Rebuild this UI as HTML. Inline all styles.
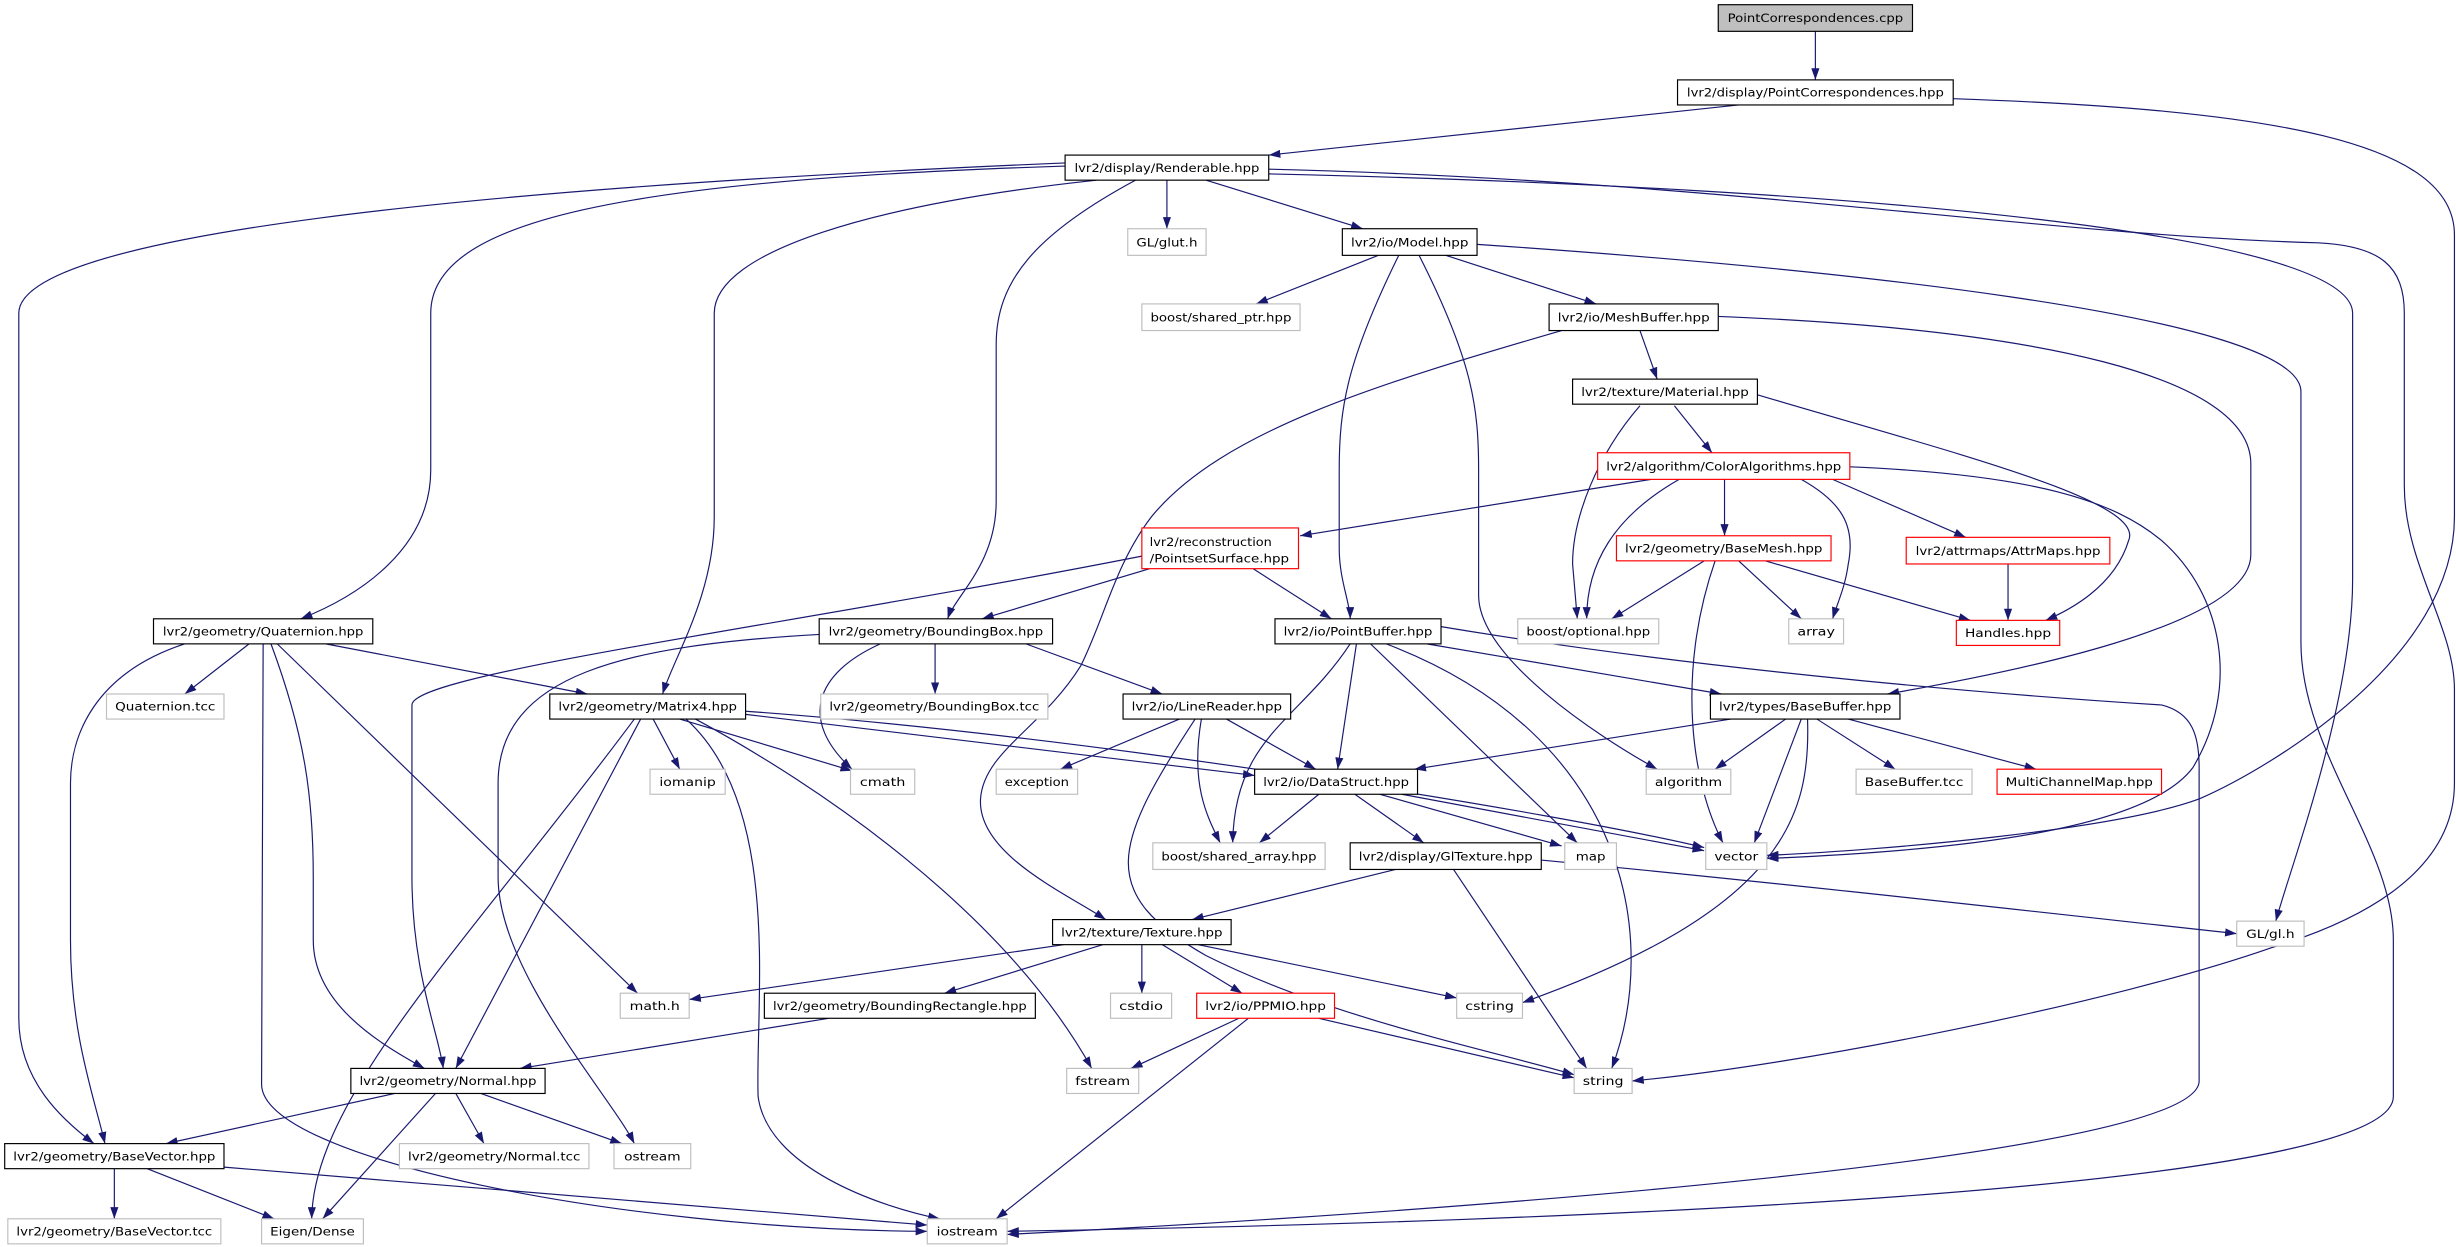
<!DOCTYPE html>
<html><head><meta charset="utf-8"><style>
html,body{margin:0;padding:0;background:#fff;}
svg{display:block;}
text{font-family:"DejaVu Sans","Liberation Sans",sans-serif;font-size:7.4px;fill:#000;}
.e{fill:none;stroke:#191970;stroke-width:0.75;marker-end:url(#a);}
.n{fill:#fff;stroke:#000;stroke-width:0.75;}
.g{fill:#fff;stroke:#bfbfbf;stroke-width:0.75;}
.r{fill:#fff;stroke:#ff0000;stroke-width:0.75;}
</style></head><body>
<svg width="2456" height="1247" viewBox="0 0 1568 796" preserveAspectRatio="none" xmlns="http://www.w3.org/2000/svg">
<defs><marker id="a" viewBox="0 0 10 7" refX="10" refY="3.5" markerUnits="userSpaceOnUse" markerWidth="7.5" markerHeight="5.2" orient="auto"><path d="M0,0 L10,3.5 L0,7 z" fill="#191970"/></marker></defs>
<rect width="1568" height="796" fill="#fff"/>
<!-- edges -->
<path class="e" d="M1159,20 L1159,51"/>
<path class="e" d="M1110,67 L810,99"/>
<path class="e" d="M1247,63 C1450,70 1567,90 1567,150 L1567,330 C1567,420 1450,490 1404,510 C1350,530 1200,543 1128,546"/>
<path class="e" d="M745,115 L745,146"/>
<path class="e" d="M770,115 L870,146"/>
<path class="e" d="M680,106 C400,115 275,140 275,200 L275,300 C275,350 230,380 192,395"/>
<path class="e" d="M680,104 C300,120 12,150 12,200 L12,650 C12,690 40,715 60,730"/>
<path class="e" d="M700,115 C560,130 456,160 456,200 L456,330 C456,380 430,420 423,443"/>
<path class="e" d="M725,115 C660,150 636,180 636,220 L636,320 C636,360 610,380 605,395"/>
<path class="e" d="M810,108 C1100,115 1300,150 1480,155 C1520,157 1535,170 1535,200 L1535,310 C1535,360 1567,400 1567,440 L1567,500 C1567,560 1500,590 1450,605 C1350,640 1150,680 1042,690"/>
<path class="e" d="M810,111 C1200,120 1502,150 1502,200 L1502,370 C1502,450 1460,560 1453,588"/>
<path class="e" d="M943,156 C1150,170 1469,200 1469,250 L1469,410 C1469,480 1528,540 1528,600 L1528,700 C1528,760 1000,780 643,786"/>
<path class="e" d="M1097,202 C1300,210 1437,240 1437,296 L1437,354 C1437,400 1280,430 1205,443"/>
<path class="e" d="M1122,252 C1250,290 1370,320 1359,345 C1350,375 1320,390 1306,396"/>
<path class="e" d="M1181,298 C1300,303 1350,320 1380,345 C1420,380 1430,440 1400,490 C1370,530 1250,543 1128,548"/>
<path class="e" d="M1150,306 C1175,320 1185,335 1180,360 C1178,375 1173,385 1170,395"/>
<path class="e" d="M1170,306 L1255,343"/>
<path class="e" d="M1127,358 L1258,396"/>
<path class="e" d="M1282,360 L1282,396"/>
<path class="e" d="M920,400 C1100,430 1300,445 1380,450 C1400,455 1404,470 1404,490 L1404,690 C1404,740 900,775 643,788"/>
<path class="e" d="M984,549 C1150,565 1300,582 1428,596"/>
<path class="e" d="M1180,459 L1300,491"/>
<path class="e" d="M1160,459 L1210,491"/>
<path class="e" d="M1140,459 L1095,491"/>
<path class="e" d="M1150,459 L1120,538"/>
<path class="e" d="M1154,459 C1156,520 1140,580 972,640"/>
<path class="e" d="M1105,459 L903,491"/>
<path class="e" d="M911,411 L1099,443"/>
<path class="e" d="M866,411 L854,491"/>
<path class="e" d="M862,411 C830,460 788,470 787,538"/>
<path class="e" d="M875,411 L1007,538"/>
<path class="e" d="M885,411 C1040,470 1060,600 1029,682"/>
<path class="e" d="M753,459 L677,491"/>
<path class="e" d="M783,459 L840,491"/>
<path class="e" d="M767,459 C760,500 770,520 779,538"/>
<path class="e" d="M763,459 C710,540 700,570 770,610 C850,650 950,670 1005,686"/>
<path class="e" d="M842,507 L804,538"/>
<path class="e" d="M865,507 L909,538"/>
<path class="e" d="M881,507 L997,540"/>
<path class="e" d="M895,507 L1088,543"/>
<path class="e" d="M891,555 L761,587"/>
<path class="e" d="M928,555 L1013,682"/>
<path class="e" d="M729,603 L729,634"/>
<path class="e" d="M742,603 L793,634"/>
<path class="e" d="M765,603 L930,637"/>
<path class="e" d="M704,603 L603,634"/>
<path class="e" d="M679,603 L440,638"/>
<path class="e" d="M791,650 L722,682"/>
<path class="e" d="M842,650 L1005,688"/>
<path class="e" d="M797,650 L636,778"/>
<path class="e" d="M118,411 C60,430 45,470 45,500 L45,600 C45,660 60,700 67,730"/>
<path class="e" d="M159,411 L118,443"/>
<path class="e" d="M208,411 L375,443"/>
<path class="e" d="M177,411 L407,634"/>
<path class="e" d="M173,411 C195,470 200,510 200,560 L200,600 C200,640 240,665 271,682"/>
<path class="e" d="M168,411 L167,692 C167,740 400,785 592,786"/>
<path class="e" d="M729,355 C500,400 263,430 263,450 L263,560 C263,620 280,660 283,682"/>
<path class="e" d="M523,405 C400,412 318,430 318,500 L318,560 C318,620 390,700 405,730"/>
<path class="e" d="M562,411 C520,430 510,460 544,491"/>
<path class="e" d="M597,411 L597,443"/>
<path class="e" d="M655,411 L742,443"/>
<path class="e" d="M417,459 L434,491"/>
<path class="e" d="M434,459 L544,492"/>
<path class="e" d="M409,459 L291,682"/>
<path class="e" d="M405,459 C300,600 200,700 199,778"/>
<path class="e" d="M438,459 C500,515 482,640 484,700 C490,745 560,770 600,778"/>
<path class="e" d="M444,459 C520,500 640,580 697,682"/>
<path class="e" d="M476,456 L801,495"/>
<path class="e" d="M476,454 C700,470 1000,520 1088,541"/>
<path class="e" d="M73,746 L73,778"/>
<path class="e" d="M94,746 L175,778"/>
<path class="e" d="M143,745 L592,782"/>
<path class="e" d="M252,698 L106,730"/>
<path class="e" d="M278,698 L206,778"/>
<path class="e" d="M291,698 L309,730"/>
<path class="e" d="M307,698 L397,730"/>
<path class="e" d="M529,650 L332,682"/>
<path class="e" d="M880,163 L802,194"/>
<path class="e" d="M923,163 L1019,194"/>
<path class="e" d="M893,163 C860,230 855,260 855,300 L855,350 C855,370 862,385 862,395"/>
<path class="e" d="M906,163 C940,230 944,260 944,300 L944,380 C944,420 1020,470 1058,491"/>
<path class="e" d="M1047,211 L1058,242"/>
<path class="e" d="M997,211 C880,245 780,275 735,330 C712,360 705,395 690,425 C665,465 628,480 626,510 C624,545 680,570 706,587"/>
<path class="e" d="M1047,259 C1020,290 1004,330 1004,360 L1007,395"/>
<path class="e" d="M1069,259 L1093,289"/>
<path class="e" d="M1054,306 L830,342"/>
<path class="e" d="M1072,306 C1030,330 1013,360 1013,395"/>
<path class="e" d="M1101,306 L1101,342"/>
<path class="e" d="M734,363 L627,395"/>
<path class="e" d="M800,363 L850,395"/>
<path class="e" d="M1088,358 L1029,395"/>
<path class="e" d="M1110,358 L1150,395"/>
<path class="e" d="M1095,358 C1070,430 1080,500 1100,538"/>
<!-- nodes -->
<rect x="1097" y="3" width="124" height="17" fill="#bfbfbf" stroke="#000" stroke-width="0.75"/><text x="1159" y="14.2" text-anchor="middle" textLength="112" lengthAdjust="spacingAndGlyphs">PointCorrespondences.cpp</text>
<rect class="n" x="1071" y="51" width="176" height="16"/><text x="1159" y="61.7" text-anchor="middle" textLength="164" lengthAdjust="spacingAndGlyphs">lvr2/display/PointCorrespondences.hpp</text>
<rect class="n" x="680" y="99" width="130" height="16"/><text x="745" y="109.7" text-anchor="middle" textLength="118" lengthAdjust="spacingAndGlyphs">lvr2/display/Renderable.hpp</text>
<rect class="g" x="720" y="146" width="50" height="17"/><text x="745" y="157.2" text-anchor="middle" textLength="39" lengthAdjust="spacingAndGlyphs">GL/glut.h</text>
<rect class="n" x="857" y="146" width="86" height="17"/><text x="900" y="157.2" text-anchor="middle" textLength="75" lengthAdjust="spacingAndGlyphs">lvr2/io/Model.hpp</text>
<rect class="g" x="729" y="194" width="101" height="17"/><text x="779.5" y="205.2" text-anchor="middle" textLength="90" lengthAdjust="spacingAndGlyphs">boost/shared_ptr.hpp</text>
<rect class="n" x="989" y="194" width="108" height="17"/><text x="1043" y="205.2" text-anchor="middle" textLength="97" lengthAdjust="spacingAndGlyphs">lvr2/io/MeshBuffer.hpp</text>
<rect class="n" x="1004" y="242" width="118" height="16"/><text x="1063" y="252.7" text-anchor="middle" textLength="107" lengthAdjust="spacingAndGlyphs">lvr2/texture/Material.hpp</text>
<rect class="r" x="1020" y="289" width="161" height="17"/><text x="1100.5" y="300.2" text-anchor="middle" textLength="150" lengthAdjust="spacingAndGlyphs">lvr2/algorithm/ColorAlgorithms.hpp</text>
<rect class="r" x="729" y="337" width="100" height="26"/><text x="734" y="348.5" textLength="78" lengthAdjust="spacingAndGlyphs">lvr2/reconstruction</text><text x="734" y="359" textLength="89" lengthAdjust="spacingAndGlyphs">/PointsetSurface.hpp</text>
<rect class="r" x="1032" y="342" width="137" height="16"/><text x="1100.5" y="352.7" text-anchor="middle" textLength="126" lengthAdjust="spacingAndGlyphs">lvr2/geometry/BaseMesh.hpp</text>
<rect class="r" x="1217" y="343" width="130" height="17"/><text x="1282" y="354.2" text-anchor="middle" textLength="118" lengthAdjust="spacingAndGlyphs">lvr2/attrmaps/AttrMaps.hpp</text>
<rect class="n" x="98" y="395" width="140" height="16"/><text x="168" y="405.7" text-anchor="middle" textLength="128" lengthAdjust="spacingAndGlyphs">lvr2/geometry/Quaternion.hpp</text>
<rect class="n" x="523" y="395" width="149" height="16"/><text x="597.5" y="405.7" text-anchor="middle" textLength="137" lengthAdjust="spacingAndGlyphs">lvr2/geometry/BoundingBox.hpp</text>
<rect class="n" x="814" y="395" width="106" height="16"/><text x="867" y="405.7" text-anchor="middle" textLength="95" lengthAdjust="spacingAndGlyphs">lvr2/io/PointBuffer.hpp</text>
<rect class="g" x="969" y="395" width="90" height="16"/><text x="1014" y="405.7" text-anchor="middle" textLength="79" lengthAdjust="spacingAndGlyphs">boost/optional.hpp</text>
<rect class="g" x="1142" y="395" width="35" height="16"/><text x="1159.5" y="405.7" text-anchor="middle" textLength="24" lengthAdjust="spacingAndGlyphs">array</text>
<rect class="r" x="1249" y="396" width="66" height="16"/><text x="1282" y="406.7" text-anchor="middle" textLength="55" lengthAdjust="spacingAndGlyphs">Handles.hpp</text>
<rect class="g" x="68" y="443" width="75" height="16"/><text x="105.5" y="453.7" text-anchor="middle" textLength="64" lengthAdjust="spacingAndGlyphs">Quaternion.tcc</text>
<rect class="n" x="351" y="443" width="125" height="16"/><text x="413.5" y="453.7" text-anchor="middle" textLength="114" lengthAdjust="spacingAndGlyphs">lvr2/geometry/Matrix4.hpp</text>
<rect class="g" x="524" y="443" width="145" height="16"/><text x="596.5" y="453.7" text-anchor="middle" textLength="134" lengthAdjust="spacingAndGlyphs">lvr2/geometry/BoundingBox.tcc</text>
<rect class="n" x="717" y="443" width="107" height="16"/><text x="770.5" y="453.7" text-anchor="middle" textLength="96" lengthAdjust="spacingAndGlyphs">lvr2/io/LineReader.hpp</text>
<rect class="n" x="1092" y="443" width="121" height="16"/><text x="1152.5" y="453.7" text-anchor="middle" textLength="110" lengthAdjust="spacingAndGlyphs">lvr2/types/BaseBuffer.hpp</text>
<rect class="g" x="415" y="491" width="48" height="16"/><text x="439" y="501.7" text-anchor="middle" textLength="36" lengthAdjust="spacingAndGlyphs">iomanip</text>
<rect class="g" x="543" y="491" width="41" height="16"/><text x="563.5" y="501.7" text-anchor="middle" textLength="29" lengthAdjust="spacingAndGlyphs">cmath</text>
<rect class="g" x="636" y="491" width="52" height="16"/><text x="662" y="501.7" text-anchor="middle" textLength="41" lengthAdjust="spacingAndGlyphs">exception</text>
<rect class="n" x="801" y="491" width="104" height="16"/><text x="853" y="501.7" text-anchor="middle" textLength="93" lengthAdjust="spacingAndGlyphs">lvr2/io/DataStruct.hpp</text>
<rect class="g" x="1051" y="491" width="54" height="16"/><text x="1078" y="501.7" text-anchor="middle" textLength="43" lengthAdjust="spacingAndGlyphs">algorithm</text>
<rect class="g" x="1185" y="491" width="74" height="16"/><text x="1222" y="501.7" text-anchor="middle" textLength="63" lengthAdjust="spacingAndGlyphs">BaseBuffer.tcc</text>
<rect class="r" x="1275" y="491" width="105" height="16"/><text x="1327.5" y="501.7" text-anchor="middle" textLength="94" lengthAdjust="spacingAndGlyphs">MultiChannelMap.hpp</text>
<rect class="g" x="736" y="538" width="110" height="17"/><text x="791" y="549.2" text-anchor="middle" textLength="99" lengthAdjust="spacingAndGlyphs">boost/shared_array.hpp</text>
<rect class="n" x="862" y="538" width="122" height="17"/><text x="923" y="549.2" text-anchor="middle" textLength="111" lengthAdjust="spacingAndGlyphs">lvr2/display/GlTexture.hpp</text>
<rect class="g" x="999" y="538" width="33" height="17"/><text x="1015.5" y="549.2" text-anchor="middle" textLength="19" lengthAdjust="spacingAndGlyphs">map</text>
<rect class="g" x="1089" y="538" width="39" height="17"/><text x="1108.5" y="549.2" text-anchor="middle" textLength="28" lengthAdjust="spacingAndGlyphs">vector</text>
<rect class="n" x="672" y="587" width="114" height="16"/><text x="729" y="597.7" text-anchor="middle" textLength="103" lengthAdjust="spacingAndGlyphs">lvr2/texture/Texture.hpp</text>
<rect class="g" x="1428" y="588" width="43" height="16"/><text x="1449.5" y="598.7" text-anchor="middle" textLength="31" lengthAdjust="spacingAndGlyphs">GL/gl.h</text>
<rect class="g" x="396" y="634" width="44" height="16"/><text x="418" y="644.7" text-anchor="middle" textLength="32" lengthAdjust="spacingAndGlyphs">math.h</text>
<rect class="n" x="488" y="634" width="173" height="16"/><text x="574.5" y="644.7" text-anchor="middle" textLength="162" lengthAdjust="spacingAndGlyphs">lvr2/geometry/BoundingRectangle.hpp</text>
<rect class="g" x="709" y="634" width="39" height="16"/><text x="728.5" y="644.7" text-anchor="middle" textLength="28" lengthAdjust="spacingAndGlyphs">cstdio</text>
<rect class="r" x="764" y="634" width="88" height="16"/><text x="808" y="644.7" text-anchor="middle" textLength="77" lengthAdjust="spacingAndGlyphs">lvr2/io/PPMIO.hpp</text>
<rect class="g" x="930" y="634" width="42" height="16"/><text x="951" y="644.7" text-anchor="middle" textLength="31" lengthAdjust="spacingAndGlyphs">cstring</text>
<rect class="n" x="224" y="682" width="124" height="16"/><text x="286" y="692.7" text-anchor="middle" textLength="113" lengthAdjust="spacingAndGlyphs">lvr2/geometry/Normal.hpp</text>
<rect class="g" x="681" y="682" width="46" height="16"/><text x="704" y="692.7" text-anchor="middle" textLength="35" lengthAdjust="spacingAndGlyphs">fstream</text>
<rect class="g" x="1005" y="682" width="37" height="16"/><text x="1023.5" y="692.7" text-anchor="middle" textLength="26" lengthAdjust="spacingAndGlyphs">string</text>
<rect class="n" x="3" y="730" width="140" height="16"/><text x="73" y="740.7" text-anchor="middle" textLength="129" lengthAdjust="spacingAndGlyphs">lvr2/geometry/BaseVector.hpp</text>
<rect class="g" x="255" y="730" width="121" height="16"/><text x="315.5" y="740.7" text-anchor="middle" textLength="110" lengthAdjust="spacingAndGlyphs">lvr2/geometry/Normal.tcc</text>
<rect class="g" x="392" y="730" width="49" height="16"/><text x="416.5" y="740.7" text-anchor="middle" textLength="36" lengthAdjust="spacingAndGlyphs">ostream</text>
<rect class="g" x="5" y="778" width="136" height="16"/><text x="73" y="788.7" text-anchor="middle" textLength="125" lengthAdjust="spacingAndGlyphs">lvr2/geometry/BaseVector.tcc</text>
<rect class="g" x="167" y="778" width="65" height="16"/><text x="199.5" y="788.7" text-anchor="middle" textLength="54" lengthAdjust="spacingAndGlyphs">Eigen/Dense</text>
<rect class="g" x="592" y="778" width="51" height="16"/><text x="617.5" y="788.7" text-anchor="middle" textLength="39" lengthAdjust="spacingAndGlyphs">iostream</text>
</svg>
</body></html>
